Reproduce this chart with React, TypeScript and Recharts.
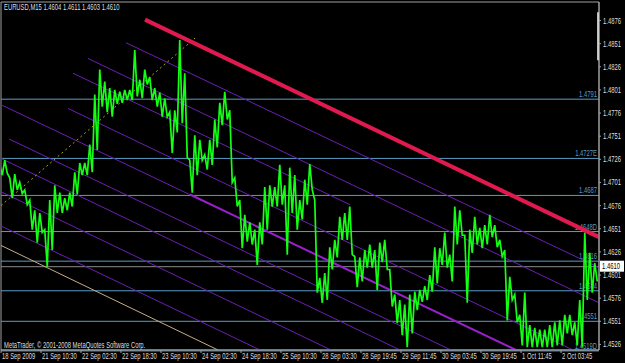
import { ComposedChart, Line, XAxis, YAxis, ReferenceLine, ReferenceArea } from 'recharts';

// bottom axis labels, one every 8 samples
const timeLabels = [
  '18 Sep 2009', '21 Sep 10:30', '22 Sep 02:30', '22 Sep 18:30', '23 Sep 10:30',
  '24 Sep 02:30', '24 Sep 18:30', '25 Sep 10:30', '28 Sep 03:30', '28 Sep 19:45',
  '29 Sep 11:45', '30 Sep 03:45', '30 Sep 19:45', '1 Oct 11:45', '2 Oct 03:45',
];
const SAMPLES_PER_LABEL = 8;

// EURUSD M15, high/low per sample
const highs = [
  1.4720, 1.4725, 1.4706, 1.4710, 1.4701, 1.4693, 1.4682, 1.4671, 1.4668, 1.4650,
  1.4682, 1.4698, 1.4690, 1.4684, 1.4690, 1.4712, 1.4722, 1.4722, 1.4742, 1.4796,
  1.4823, 1.4810, 1.4803, 1.4801, 1.4799, 1.4801, 1.4801, 1.4844, 1.4812, 1.4823,
  1.4815, 1.4803, 1.4798, 1.4792, 1.4777, 1.4779, 1.4855, 1.4819, 1.4725, 1.4752,
  1.4747, 1.4731, 1.4747, 1.4769, 1.4787, 1.4799, 1.4779, 1.4706, 1.4682, 1.4666,
  1.4658, 1.4650, 1.4658, 1.4696, 1.4698, 1.4696, 1.4720, 1.4698, 1.4717, 1.4709,
  1.4682, 1.4704, 1.4721, 1.4682, 1.4598, 1.4603, 1.4631, 1.4639, 1.4664, 1.4668,
  1.4675, 1.4621, 1.4620, 1.4628, 1.4634, 1.4628, 1.4636, 1.4639, 1.4607, 1.4580,
  1.4574, 1.4569, 1.4580, 1.4583, 1.4585, 1.4589, 1.4601, 1.4631, 1.4630, 1.4647,
  1.4623, 1.4675, 1.4671, 1.4644, 1.4650, 1.4664, 1.4652, 1.4655, 1.4666, 1.4655,
  1.4639, 1.4628, 1.4599, 1.4580, 1.4558, 1.4582, 1.4547, 1.4544, 1.4542, 1.4542,
  1.4547, 1.4550, 1.4552, 1.4558, 1.4558, 1.4550, 1.4574, 1.4647, 1.4625, 1.4614,
];
const lows = [
  1.4709, 1.4711, 1.4684, 1.4693, 1.4689, 1.4677, 1.4650, 1.4636, 1.4647, 1.4610,
  1.4628, 1.4668, 1.4668, 1.4671, 1.4675, 1.4688, 1.4709, 1.4709, 1.4712, 1.4736,
  1.4783, 1.4777, 1.4772, 1.4786, 1.4787, 1.4790, 1.4790, 1.4794, 1.4792, 1.4807,
  1.4790, 1.4783, 1.4772, 1.4772, 1.4733, 1.4755, 1.4765, 1.4728, 1.4690, 1.4709,
  1.4725, 1.4715, 1.4720, 1.4739, 1.4763, 1.4769, 1.4701, 1.4675, 1.4630, 1.4637,
  1.4634, 1.4612, 1.4634, 1.4650, 1.4675, 1.4675, 1.4677, 1.4623, 1.4668, 1.4650,
  1.4661, 1.4677, 1.4693, 1.4582, 1.4571, 1.4574, 1.4607, 1.4620, 1.4639, 1.4639,
  1.4623, 1.4588, 1.4594, 1.4609, 1.4609, 1.4585, 1.4615, 1.4607, 1.4567, 1.4549,
  1.4536, 1.4523, 1.4538, 1.4563, 1.4572, 1.4574, 1.4583, 1.4592, 1.4612, 1.4609,
  1.4594, 1.4634, 1.4644, 1.4571, 1.4625, 1.4634, 1.4630, 1.4634, 1.4642, 1.4631,
  1.4621, 1.4552, 1.4574, 1.4550, 1.4525, 1.4523, 1.4523, 1.4523, 1.4523, 1.4523,
  1.4523, 1.4525, 1.4525, 1.4538, 1.4536, 1.4525, 1.4523, 1.4574, 1.4582, 1.4594,
];

const priceTicks = [
  1.4526, 1.4551, 1.4576, 1.4601, 1.4626, 1.4651, 1.4676, 1.4701,
  1.4726, 1.4751, 1.4776, 1.4801, 1.4826, 1.4851, 1.4876,
];

const levelPrices = [1.4791, 1.4727, 1.4687, 1.4648, 1.4616, 1.4584, 1.4551, 1.4519];
const levelNames = ['1.4791', '1.4727E', '1.4687', '1.4648D', '1.4616', '1.4584', '1.4551', '1.4519D'];

const lastPrice = 1.4610;
const title = 'EURUSD,M15  1.4604 1.4611 1.4603 1.4610';
const copyright = 'MetaTrader, \u00a9 2001-2008 MetaQuotes Software Corp.';

// [sampleFrom, priceFrom, sampleTo, priceTo]
type Seg = [number, number, number, number];
const resistanceLine: Seg = [28.8, 1.4877, 119.6, 1.4642];
const channelLines: Seg[] = [
  [25, 1.4852, 119.6, 1.4609],
  [17.4, 1.4835, 119.6, 1.4571],
  [14.4, 1.4819, 69.8, 1.4677],
  [13.4, 1.4781, 114.4, 1.452],
  [0, 1.4785, 103, 1.452],
  [1.6, 1.4748, 90, 1.452],
  [0, 1.4727, 79.8, 1.452],
  [0, 1.4691, 66, 1.452],
  [0, 1.4654, 51.8, 1.452],
];
const mainChannel: Seg = [37.8, 1.4688, 103, 1.452];
const supportLine: Seg = [0, 1.4633, 43.4, 1.452];
const risingLine: Seg = [0, 1.4676, 38.8, 1.4857];
const scrollMark: Seg = [119.45, 1.4885, 119.45, 1.4833];

const X_MAX = 119.6;
const Y_MIN = 1.452;
const Y_MAX = 1.4896;

const FONT = 'Liberation Sans, Arial, sans-serif';
const TEXT = '#dedede';
const LEVEL = '#5b9cc4';
const PURPLE = '#6c1fb4';
const GREEN = '#14ff14';

// each sample drawn as a high -> low stroke, like the packed M15 bars
const priceData = highs.flatMap((h, i) => [
  { t: i - 0.25, p: h },
  { t: i + 0.25, p: lows[i] },
]);

function Txt({ x, y, anchor = 'start', fill = TEXT, children }: any) {
  return (
    <text
      transform={`translate(${x},${y}) scale(0.69,1)`}
      textAnchor={anchor}
      fill={fill}
      fontSize={8.5}
      fontFamily={FONT}
    >
      {children}
    </text>
  );
}

function XTick({ x, y, payload }: any) {
  const label = timeLabels[Math.round(payload.value / SAMPLES_PER_LABEL)];
  return <Txt x={x + 1} y={y + 5}>{label}</Txt>;
}

function YTick({ x, y, payload }: any) {
  return <Txt x={x + 1} y={y + 3}>{payload.value.toFixed(4)}</Txt>;
}

const segLine = (s: Seg, key: string, stroke: string, width = 1, dash?: string) => (
  <ReferenceLine
    key={key}
    segment={[{ x: s[0], y: s[1] }, { x: s[2], y: s[3] }]}
    stroke={stroke}
    strokeWidth={width}
    strokeDasharray={dash}
    ifOverflow="hidden"
  />
);

export default function App() {
  const xTicks = timeLabels.map((_, i) => i * SAMPLES_PER_LABEL);
  return (
    <div style={{ position: 'fixed', left: 0, top: 0, width: 625, height: 363, background: '#000' }}>
      <ComposedChart
        width={625}
        height={363}
        data={priceData}
        margin={{ top: 2, right: 0, bottom: 0, left: 1 }}
      >
        <XAxis
          dataKey="t"
          type="number"
          domain={[0, X_MAX]}
          allowDataOverflow
          ticks={xTicks}
          interval={0}
          height={13}
          stroke="#a0a0a0"
          tickSize={3}
          tickMargin={1}
          tick={<XTick />}
        />
        <YAxis
          orientation="right"
          type="number"
          domain={[Y_MIN, Y_MAX]}
          allowDataOverflow
          ticks={priceTicks}
          interval={0}
          width={26}
          stroke="#a0a0a0"
          tickSize={2}
          tickMargin={1}
          tick={<YTick />}
        />
        <ReferenceArea x1={0} x2={X_MAX} y1={Y_MIN} y2={Y_MAX} fill="none" stroke="#a0a0a0" />
        {levelPrices.map((p, i) => (
          <ReferenceLine
            key={`lvl-${i}`}
            y={p}
            stroke={LEVEL}
            ifOverflow="extendDomain"
            label={(props: any) => {
              const vb = props.viewBox;
              return <Txt x={vb.x + vb.width - 2} y={vb.y - 2} anchor="end" fill={LEVEL}>{levelNames[i]}</Txt>;
            }}
          />
        ))}
        <ReferenceLine y={lastPrice} stroke="#8a8a8a" />
        {channelLines.map((s, i) => segLine(s, `ch-${i}`, PURPLE))}
        {segLine(mainChannel, 'main', '#9a1fcc', 2)}
        {segLine(supportLine, 'sup', '#c8ad86')}
        {segLine(risingLine, 'rise', '#a8a800', 1, '2 3')}
        <Line dataKey="p" stroke={GREEN} strokeWidth={1.7} dot={false} isAnimationActive={false} />
        {segLine(resistanceLine, 'res', '#e01a4f', 4)}
        {segLine(scrollMark, 'scroll', '#ffffff', 2)}
        <ReferenceLine
          y={lastPrice}
          stroke="none"
          label={(props: any) => {
            const vb = props.viewBox;
            const x0 = vb.x + vb.width + 1;
            return (
              <g>
                <rect x={x0} y={vb.y - 6} width={24} height={11} fill="#ffffff" />
                <Txt x={x0 + 2} y={vb.y + 2} fill="#000">{lastPrice.toFixed(4)}</Txt>
              </g>
            );
          }}
        />
      </ComposedChart>
      <svg width={625} height={363} style={{ position: 'absolute', left: 0, top: 0, pointerEvents: 'none' }}>
        <Txt x={4} y={10}>{title}</Txt>
        <Txt x={4} y={348}>{copyright}</Txt>
      </svg>
    </div>
  );
}
